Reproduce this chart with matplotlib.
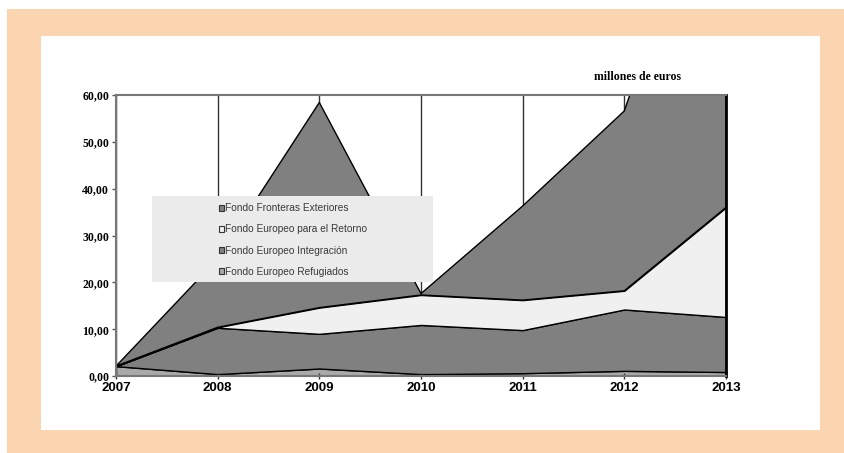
import matplotlib
matplotlib.use("Agg")
import matplotlib.pyplot as plt
from matplotlib.patches import Rectangle, Patch

years = [2007, 2008, 2009, 2010, 2011, 2012, 2013]
year_labels = ["2007", "2008", "2009", "2010", "2011", "2012", "2013"]
refugiados = [2.1, 0.4, 1.6, 0.4, 0.6, 1.1, 0.85]
integracion = [0.0, 9.9, 7.4, 10.5, 9.2, 13.1, 11.75]
retorno = [0.0, 0.1, 5.6, 6.4, 6.4, 4.0, 23.4]
fronteras = [0.0, 14.6, 43.8, 0.3, 20.1, 38.4, 84.0]
series_names = ["Fondo Europeo Refugiados", "Fondo Europeo Integración",
                "Fondo Europeo para el Retorno", "Fondo Fronteras Exteriores"]
y_ticks = [0, 10, 20, 30, 40, 50, 60]
y_tick_labels = ["0,00", "10,00", "20,00", "30,00", "40,00", "50,00", "60,00"]

colors = ["#a9a9a9", "#808080", "#f0f0f0", "#808080"]

W, H = 844, 453
fig = plt.figure(figsize=(W / 100, H / 100), dpi=100)
fig.patch.set_facecolor("white")

# peach frame
fig.patches.append(Rectangle((7 / W, 0), 1 - 7 / W, 1 - 9 / H, transform=fig.transFigure,
                             facecolor="#fbd4b0", edgecolor="none", zorder=-2))
fig.patches.append(Rectangle((41 / W, 1 - 430 / H), (820 - 41) / W, (430 - 36) / H,
                             transform=fig.transFigure, facecolor="white",
                             edgecolor="none", zorder=-1))

ax = fig.add_axes([116 / W, 1 - 376 / H, (726 - 116) / W, (376 - 95) / H])
ax.set_facecolor("white")

# vertical grid lines
for yr in years:
    ax.axvline(yr, color="#333333", lw=1.0, zorder=0.5)

stacks = ax.stackplot(years, refugiados, integracion, retorno, fronteras,
                      colors=colors, edgecolor="black", linewidth=1.0, zorder=1)

ax.set_xlim(2007, 2013)
ax.set_ylim(0, 60)
ax.set_xticks(years)
ax.set_xticklabels(year_labels, fontfamily="Liberation Sans", fontweight="bold", fontsize=9.5)
ax.set_yticks(y_ticks)
ax.set_yticklabels(y_tick_labels, fontfamily="Liberation Serif", fontweight="bold", fontsize=8.5)
ax.tick_params(axis="y", length=3, width=1, color="#555555", pad=2)
ax.tick_params(axis="x", length=4, width=1, color="#333333", pad=2, direction="inout")

for side in ["left", "bottom", "top"]:
    ax.spines[side].set_color("#777777")
    ax.spines[side].set_linewidth(1.5)
ax.spines["right"].set_color("black")
ax.spines["right"].set_linewidth(2)
for s in ax.spines.values():
    s.set_zorder(3)

# legend background box
ax.add_patch(Rectangle((0.059, 0.334), 0.461, 0.306, transform=ax.transAxes,
                       facecolor="#ebebeb", edgecolor="none", zorder=4))
handles = [Patch(facecolor=colors[i], edgecolor="#333333", linewidth=0.8) for i in [3, 2, 1, 0]]
labels = [series_names[i] for i in [3, 2, 1, 0]]
leg = ax.legend(handles, labels, loc="upper left", bbox_to_anchor=(0.162, 0.629),
                frameon=False, handlelength=0.55, handleheight=0.55, handletextpad=0.1,
                labelspacing=1.1, borderaxespad=0,
                prop={"family": "Liberation Sans", "size": 7.3})
leg.set_zorder(5)
for t in leg.get_texts():
    t.set_color("#3a3a3a")

fig.text(637 / W, 1 - 77 / H, "millones de euros", ha="center", va="center",
         fontfamily="Liberation Serif", fontweight="bold", fontsize=8.5)

fig.savefig("out.png", dpi=100)
